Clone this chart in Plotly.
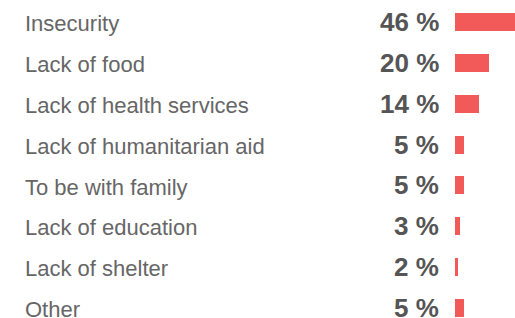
import plotly.graph_objects as go

categories = ["Insecurity", "Lack of food", "Lack of health services",
              "Lack of humanitarian aid", "To be with family",
              "Lack of education", "Lack of shelter", "Other"]
values = [46, 20, 14, 5, 5, 3, 2, 5]
value_labels = [f"{v} %" for v in values]

W, H = 515, 318
BAR_COLOR = "#F25A5A"
LABEL_COLOR = "#666666"
NUM_COLOR = "#555555"

rows = list(range(len(categories)))

fig = go.Figure(go.Bar(
    x=values, y=rows, orientation="h",
    marker=dict(color=BAR_COLOR, line=dict(width=0)),
    width=0.44, hoverinfo="skip",
))

annotations = []
for r, cat, lab in zip(rows, categories, value_labels):
    annotations.append(dict(
        x=23 / W, xref="paper", xanchor="left",
        y=r + 0.04, yref="y", yanchor="middle",
        text=cat, showarrow=False,
        font=dict(family="Liberation Sans, Arial", size=22, color=LABEL_COLOR),
    ))
    annotations.append(dict(
        x=441 / W, xref="paper", xanchor="right",
        y=r, yref="y", yanchor="middle",
        text=f"<b>{lab}</b>", showarrow=False,
        font=dict(family="Liberation Sans, Arial", size=26, color=NUM_COLOR),
    ))

fig.update_layout(
    width=W, height=H,
    margin=dict(l=0, r=0, t=0, b=0),
    paper_bgcolor="white", plot_bgcolor="white",
    showlegend=False,
    xaxis=dict(domain=[455 / W, 1], range=[0, 60 / 1.7], visible=False, fixedrange=True),
    yaxis=dict(range=[7.245, -0.538], visible=False, fixedrange=True),
    annotations=annotations,
    bargap=0,
)

fig.write_html("out.html", config={"displayModeBar": False},
               post_script="document.body.style.margin='0';document.body.style.overflow='hidden';")
